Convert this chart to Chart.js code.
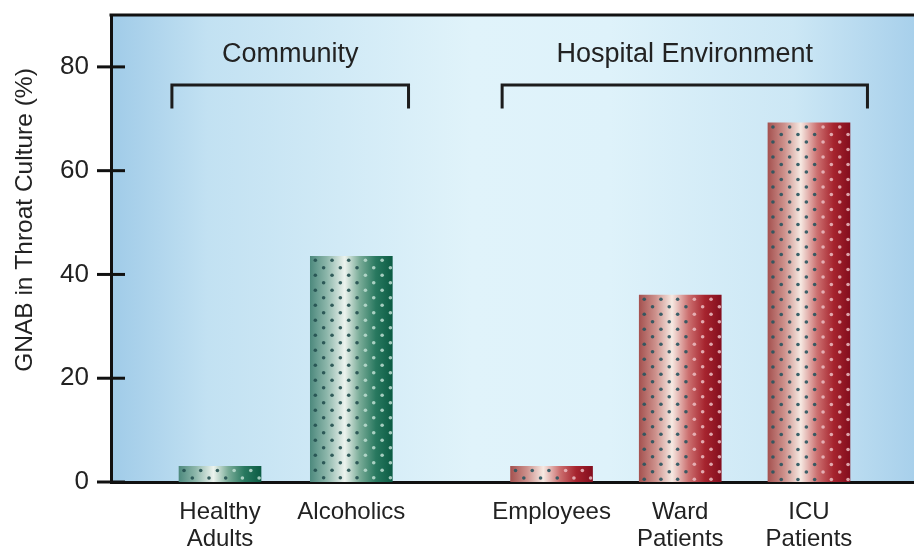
<!DOCTYPE html>
<html>
<head>
<meta charset="utf-8">
<script src="https://cdn.jsdelivr.net/npm/chart.js@4"></script>
<style>
  html, body { margin: 0; padding: 0; background: #fff; }
  #wrap { width: 914px; height: 550px; }
</style>
</head>
<body>
<div id="wrap"><canvas id="gnabChart" width="914" height="550"></canvas></div>
<script>
// ---- data ----
const categories = [["Healthy", "Adults"], "Alcoholics", "Employees", ["Ward", "Patients"], ["ICU", "Patients"]];
const positions = [1, 2.01, 3.55, 4.54, 5.53];     // bar centres on the x axis (gap between groups)
const gnabPct = [3, 43.5, 3, 36, 69.2];
const setting = ["community", "community", "hospital", "hospital", "hospital"];
const groupLabels = ["Community", "Hospital Environment"];
const groupSpans = [[0.63, 2.45], [3.17, 5.98]];   // bracket ends, x axis units
const yTicks = [0, 20, 40, 60, 80];

const FONT = "'Liberation Sans', Arial, Helvetica, sans-serif";
const INK = "#222";

// bar colours: horizontal "cylinder" shading
const barStops = {
    community: [[0, "rgb(78,138,126)"], [0.2, "rgb(140,182,170)"], [0.42, "rgb(236,243,238)"],
                [0.6, "rgb(122,172,152)"], [0.8, "rgb(40,120,95)"], [1, "rgb(12,92,68)"]],
    hospital:  [[0, "rgb(165,82,80)"], [0.2, "rgb(205,145,140)"], [0.4, "rgb(246,233,226)"],
                [0.6, "rgb(204,112,112)"], [0.8, "rgb(166,36,46)"], [1, "rgb(132,14,30)"]]
};
const dotColors = {
    community: ["rgba(35,80,80,0.9)", "rgba(190,222,210,0.85)"],
    hospital:  ["rgba(40,85,95,0.9)", "rgba(235,190,195,0.85)"]
};

function barFill(c) {
    const chart = c.chart;
    if (!chart.chartArea || c.dataIndex === undefined) return "#888";
    const cx = chart.scales.x.getPixelForValue(positions[c.dataIndex]);
    const g = chart.ctx.createLinearGradient(cx - 41, 0, cx + 41, 0);
    barStops[setting[c.dataIndex]].forEach(s => g.addColorStop(s[0], s[1]));
    return g;
}

function noPad(s) {
    s.paddingTop = 0; s.paddingBottom = 0; s.paddingLeft = 0; s.paddingRight = 0;
}

// -----------------------------
// decorations: background, dots, brackets, frame
// -----------------------------
const decor = {
    id: "decor",
    beforeDraw(chart) {
        const { ctx, chartArea: a } = chart;
        const g = ctx.createLinearGradient(a.left, 0, a.right, 0);
        g.addColorStop(0, "rgb(160,203,232)");
        g.addColorStop(0.12, "rgb(194,225,242)");
        g.addColorStop(0.45, "rgb(224,243,250)");
        g.addColorStop(0.62, "rgb(222,242,250)");
        g.addColorStop(0.85, "rgb(204,231,245)");
        g.addColorStop(1, "rgb(168,208,235)");
        ctx.save();
        ctx.fillStyle = g;
        ctx.fillRect(a.left, a.top, a.right - a.left, a.bottom - a.top);
        ctx.restore();
    },
    afterDatasetsDraw(chart) {
        const { ctx, chartArea: a, scales: { x, y } } = chart;
        const meta = chart.getDatasetMeta(0);

        // perforated dot pattern on every bar
        meta.data.forEach((bar, i) => {
            const left = bar.x - bar.width / 2, w = bar.width;
            const top = bar.y, h = bar.base - bar.y;
            const cols = dotColors[setting[i]];
            ctx.save();
            ctx.beginPath();
            ctx.rect(left, top, w, h);
            ctx.clip();
            let row = 0;
            for (let yy = top + 4; yy < bar.base; yy += 7.5, row++) {
                for (let xx = left + 5 + (row % 2) * 8.3; xx < left + w; xx += 16.7) {
                    ctx.fillStyle = (xx - left) / w > 0.64 ? cols[1] : cols[0];
                    ctx.beginPath();
                    ctx.arc(xx, yy, 1.8, 0, Math.PI * 2);
                    ctx.fill();
                }
            }
            ctx.restore();
        });

        // group brackets + labels
        ctx.save();
        ctx.strokeStyle = "#1c1c1c";
        ctx.lineWidth = 3;
        ctx.lineJoin = "miter";
        ctx.fillStyle = INK;
        ctx.font = "27px " + FONT;
        ctx.textAlign = "center";
        ctx.textBaseline = "middle";
        groupSpans.forEach((span, k) => {
            const x0 = x.getPixelForValue(span[0]);
            const x1 = x.getPixelForValue(span[1]);
            const yt = y.getPixelForValue(76.5);
            const yf = y.getPixelForValue(72);
            ctx.beginPath();
            ctx.moveTo(x0, yf);
            ctx.lineTo(x0, yt);
            ctx.lineTo(x1, yt);
            ctx.lineTo(x1, yf);
            ctx.stroke();
            ctx.fillText(groupLabels[k], (x0 + x1) / 2, y.getPixelForValue(82.3));
        });

        // top frame line
        ctx.strokeStyle = "#111";
        ctx.beginPath();
        ctx.moveTo(a.left - 1.5, a.top);
        ctx.lineTo(a.right, a.top);
        ctx.stroke();
        ctx.restore();
    },
    afterDraw(chart) {
        const { ctx, chartArea: a, scales: { y } } = chart;
        ctx.save();
        // y tick marks crossing the axis
        ctx.strokeStyle = "#111";
        ctx.lineWidth = 3;
        yTicks.forEach(v => {
            const py = y.getPixelForValue(v);
            ctx.beginPath();
            ctx.moveTo(a.left - 14, py);
            ctx.lineTo(a.left + 14, py);
            ctx.stroke();
        });
        // y axis title
        ctx.translate(25, 220);
        ctx.rotate(-Math.PI / 2);
        ctx.fillStyle = INK;
        ctx.font = "24.5px " + FONT;
        ctx.textAlign = "center";
        ctx.textBaseline = "middle";
        ctx.fillText("GNAB in Throat Culture (%)", 0, 0);
        ctx.restore();
    }
};

new Chart(document.getElementById("gnabChart"), {
    type: "bar",
    data: {
        datasets: [{
            data: positions.map((p, i) => ({ x: p, y: gnabPct[i] })),
            backgroundColor: barFill,
            borderWidth: 0,
            barThickness: 82
        }]
    },
    options: {
        responsive: false,
        animation: false,
        devicePixelRatio: 1,
        layout: { padding: { top: 15, left: 0, right: 0, bottom: 0 } },
        plugins: { legend: { display: false }, tooltip: { enabled: false } },
        scales: {
            x: {
                type: "linear",
                offset: false,
                min: 0.1615,
                max: 6.338,
                z: 1,
                grid: { display: false, drawTicks: false, offset: false },
                border: { display: true, color: "#111", width: 3 },
                afterBuildTicks: s => { s.ticks = positions.map(v => ({ value: v })); },
                afterFit: s => { s.height = 68; noPad(s); },
                ticks: {
                    autoSkip: false,
                    maxRotation: 0,
                    padding: 17,
                    color: INK,
                    font: { family: FONT, size: 24, lineHeight: 1.13 },
                    callback: v => {
                        const i = positions.indexOf(v);
                        return i >= 0 ? categories[i] : "";
                    }
                }
            },
            y: {
                min: 0,
                max: 90,
                z: 1,
                grid: { display: false, drawTicks: false },
                border: { display: true, color: "#111", width: 3 },
                afterBuildTicks: s => { s.ticks = yTicks.map(v => ({ value: v })); },
                afterFit: s => { s.width = 111; noPad(s); },
                ticks: {
                    padding: 22,
                    color: INK,
                    font: { family: FONT, size: 26 }
                }
            }
        }
    },
    plugins: [decor]
});
</script>
</body>
</html>
